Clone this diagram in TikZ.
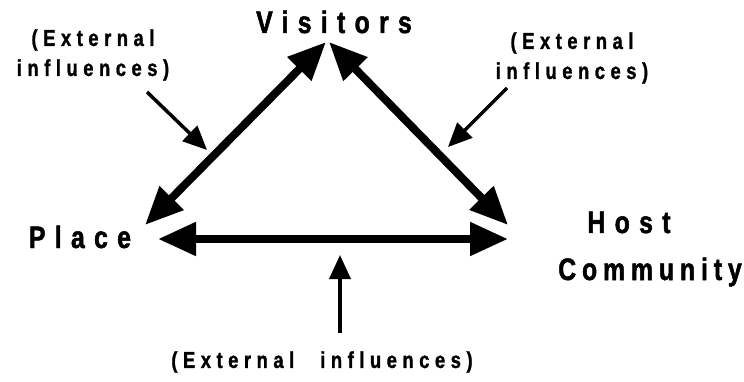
\documentclass[tikz,border=0pt]{standalone}
\usepackage{fontspec}
\usetikzlibrary{arrows.meta}
% heavy, narrow, widely tracked sans for all lettering
\newfontfamily\partyfont[FakeStretch=0.8,LetterSpace=30,FakeBold=1.6]{Liberation Sans Bold}
\newfontfamily\longfont[FakeStretch=0.8,LetterSpace=19,FakeBold=1.6]{Liberation Sans Bold}
\newfontfamily\notefont[FakeStretch=0.8,LetterSpace=24,FakeBold=1.2]{Liberation Sans Bold}
\begin{document}
\begin{tikzpicture}[x=1pt,y=-1pt,
  party/.style={inner sep=0pt,anchor=base,font=\partyfont\fontsize{31}{33}\selectfont},
  influence/.style={inner sep=0pt,align=center,font=\notefont\fontsize{23}{30}\selectfont},
  link/.style={line width=8pt,{Triangle[length=38pt,width=32pt]}-{Triangle[length=38pt,width=32pt]}},
  push/.style={line width=3.5pt,-{Triangle[length=24pt,width=21pt]}}]
  \useasboundingbox[fill=white] (0,0) rectangle (744,382);

  % the three parties
  \node[party] (visitors) at (334,33) {Visitors};
  \node[party] (place) at (80,248) {Place};
  \node[party] (host) at (629,233) {Host};
  \node[party,font=\longfont\fontsize{31}{33}\selectfont] (community) at (650,280) {Community};

  % outside influences
  \node[influence] (extL) at (93,55) {(External\\influences)};
  \node[influence] (extR) at (572,58) {(External\\influences)};
  \node[influence] (extB) at (322,362) {(External\hspace{26pt}influences)};

  % arrow tips beside each name
  \coordinate (vL) at (326,42);
  \coordinate (vR) at (329,42);
  \coordinate (pD) at (145,225);
  \coordinate (pH) at (158,239);
  \coordinate (hD) at (508,225);
  \coordinate (hH) at (508,239);

  % two-way relations
  \draw[link] (pD) -- (vL);
  \draw[link] (vR) -- (hD);
  \draw[link] (pH) -- (hH);

  % influence arrows
  \coordinate (tL) at (147,92);
  \coordinate (aL) at (207,150);
  \coordinate (tR) at (507,88);
  \coordinate (aR) at (448,147);
  \coordinate (tB) at (340,333);
  \coordinate (aB) at (340,255);
  \draw[push] (tL) -- (aL);
  \draw[push] (tR) -- (aR);
  \draw[push] (tB) -- (aB);
\end{tikzpicture}
\end{document}
